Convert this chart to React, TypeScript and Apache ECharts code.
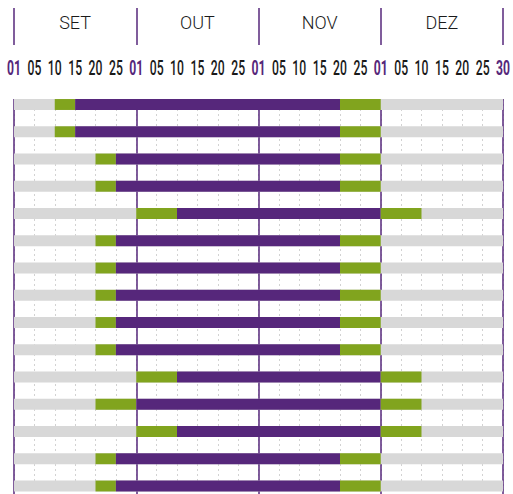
import React, { useEffect, useRef } from "react";
import * as echarts from "echarts";

const months = ["SET", "OUT", "NOV", "DEZ"];
const dayTicks = ["01", "05", "10", "15", "20", "25"];
const endLabel = "30";

// slot positions (6 slots per month, 0..24)
const greenStart = [2, 2, 4, 4, 6, 4, 4, 4, 4, 4, 6, 4, 6, 4, 4];
const purpleStart = [3, 3, 5, 5, 8, 5, 5, 5, 5, 5, 8, 6, 8, 5, 5];
const purpleEnd = [16, 16, 16, 16, 18, 16, 16, 16, 16, 16, 18, 18, 18, 16, 16];
const greenEnd = [18, 18, 18, 18, 20, 18, 18, 18, 18, 18, 20, 20, 20, 18, 18];

const PURPLE = "#56277b";
const GREEN = "#81a41e";
const GRAY = "#d8d8d8";
const GRID_TOP = 99;

export default function App() {
  const ref = useRef<HTMLDivElement>(null);
  useEffect(() => {
    if (!ref.current) return;
    const chart = echarts.init(ref.current, undefined, { renderer: "svg" });
    const total = months.length * dayTicks.length;
    const data: number[][] = [];
    greenStart.forEach((_, r) => {
      data.push([r, 0, total, 0]);
      data.push([r, greenStart[r], purpleStart[r], 1]);
      data.push([r, purpleStart[r], purpleEnd[r], 2]);
      data.push([r, purpleEnd[r], greenEnd[r], 1]);
    });
    const colors = [GRAY, GREEN, PURPLE];
    chart.setOption({
      animation: false,
      grid: { left: 14, right: 10, top: GRID_TOP, bottom: 0, outerBoundsMode: "none", containLabel: false },
      xAxis: [
        {
          type: "value",
          min: 0,
          max: total,
          interval: 6,
          position: "bottom",
          z: 1,
          axisLine: { show: false },
          axisTick: { show: false },
          axisLabel: { show: false },
          splitLine: { show: true, lineStyle: { color: PURPLE, width: 1.5, type: "solid" } },
        },
        {
          type: "value",
          min: 0,
          max: total,
          interval: 1,
          position: "top",
          axisLine: { show: false },
          axisTick: { show: false },
          axisLabel: { show: false },
          splitLine: { show: true, lineStyle: { color: "#d2d2d2", width: 1, type: [2, 3] } },
        },
        {
          type: "category",
          data: months,
          position: "top",
          offset: 54,
          axisLine: { show: false },
          axisTick: { show: true, length: 37, lineStyle: { color: PURPLE, width: 1.5 } },
          axisLabel: {
            margin: 23,
            verticalAlign: "middle",
            color: "#1a1a1a",
            fontFamily: "Roboto",
            fontWeight: 300,
            fontSize: 18,
          },
          splitLine: { show: false },
        },
      ],
      yAxis: {
        type: "value",
        inverse: true,
        min: -0.2018,
        max: 14.293,
        show: false,
        splitLine: { show: false },
      },
      series: [
        {
          type: "custom",
          xAxisIndex: 0,
          yAxisIndex: 0,
          encode: { x: [1, 2], y: 0 },
          data,
          renderItem: (params: any, api: any) => {
            const r = api.value(0);
            const s = api.coord([api.value(1), r]);
            const e = api.coord([api.value(2), r]);
            const h = api.size([0, 1])[1] * 0.4;
            const kind = api.value(3);
            return {
              type: "rect",
              shape: { x: s[0], y: s[1] - h / 2, width: e[0] - s[0], height: h },
              style: { fill: colors[kind] },
            };
          },
        },
      ],
    });
    // day tick labels, placed on the axis ticks through the axis scale
    const labels: any[] = [];
    for (let i = 0; i <= total; i++) {
      const isEnd = i === total;
      const isFirst = i % dayTicks.length === 0;
      const text = isEnd ? endLabel : dayTicks[i % dayTicks.length];
      const x = chart.convertToPixel({ xAxisIndex: 1 }, i) as number;
      labels.push({
        type: "text",
        x,
        y: GRID_TOP - 31,
        scaleX: 0.58,
        style: {
          text,
          fill: isEnd || isFirst ? PURPLE : "#1a1a1a",
          fontSize: 21,
          fontFamily: "Roboto",
          fontWeight: isEnd || isFirst ? "bold" : 500,
          align: "center",
          verticalAlign: "middle",
        },
      });
    }
    chart.setOption({ graphic: labels });
    return () => chart.dispose();
  }, []);
  return (
    <div
      ref={ref}
      style={{ position: "fixed", left: 0, top: 0, width: 513, height: 494, background: "#fff" }}
    />
  );
}
